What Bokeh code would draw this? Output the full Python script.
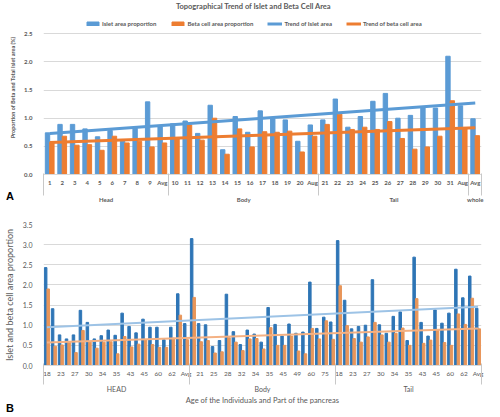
import numpy as np
from bokeh.plotting import figure
from bokeh.models import (ColumnDataSource, FixedTicker, LinearAxis, Range1d,
                          Legend, LegendItem, Label, NumeralTickFormatter, Div)
from bokeh.layouts import column
from bokeh.embed import file_html
from bokeh.resources import INLINE

# ---------------- Panel A data ----------------
a_groups = ["Head", "Body", "Tail", "whole"]
a_group_sizes = [10, 12, 12, 1]
a_labels = ["1", "2", "3", "4", "5", "6", "7", "8", "9", "Avg",
            "10", "11", "12", "13", "14", "15", "16", "17", "18", "19", "20", "Aug",
            "21", "22", "23", "24", "25", "26", "27", "28", "29", "30", "31", "Aug",
            "Avg"]
a_islet = [0.74, 0.89, 0.89, 0.81, 0.67, 0.78, 0.59, 0.82, 1.29, 0.85,
           0.90, 0.95, 0.73, 1.23, 0.44, 1.03, 0.75, 1.13, 0.99, 0.97, 0.59, 0.88,
           0.97, 1.34, 0.84, 1.03, 1.30, 1.44, 1.00, 1.05, 1.18, 1.18, 2.10, 1.22,
           0.99]
a_beta = [0.57, 0.68, 0.52, 0.53, 0.43, 0.68, 0.56, 0.59, 0.49, 0.56,
          0.63, 0.88, 0.61, 1.00, 0.36, 0.81, 0.49, 0.76, 0.75, 0.77, 0.40, 0.68,
          0.89, 1.07, 0.80, 0.84, 0.80, 0.94, 0.64, 0.45, 0.49, 0.68, 1.31, 0.81,
          0.69]
a_trend_islet = [0.73, 1.27]
a_trend_beta = [0.57, 0.83]
a_yticks = [0.0, 0.5, 1.0, 1.5, 2.0, 2.5]

# ---------------- Panel B data ----------------
b_groups = ["HEAD", "Body", "Tail"]
b_group_sizes = [21, 21, 21]
b_labels = ["18", "", "23", "", "27", "", "30", "", "34", "", "35", "", "43", "", "45", "", "60", "", "62", "", "Avg",
            "", "21", "", "25", "", "28", "", "32", "", "34", "", "35", "", "45", "", "49", "", "60", "", "75", "",
            "18", "", "23", "", "27", "", "30", "", "34", "", "35", "", "43", "", "45", "", "60", "", "62", "", "Avg"]
b_islet = [2.43, 1.41, 0.76, 0.66, 0.76, 1.37, 1.07, 0.66, 0.74, 0.88, 0.75,
           1.30, 0.97, 0.81, 1.15, 0.95, 0.95, 0.64, 0.95, 1.78, 1.04,
           3.15, 1.04, 1.01, 0.47, 0.62, 1.77, 0.84, 0.52, 0.88, 0.78, 0.58,
           1.44, 1.02, 0.73, 1.03, 0.80, 0.83, 2.07, 0.92, 1.20, 1.08,
           3.10, 1.62, 0.91, 0.97, 1.00, 2.13, 1.01, 0.80, 1.22, 1.33, 0.62,
           2.69, 1.07, 0.73, 1.38, 1.05, 1.30, 2.39, 1.68, 2.22, 1.42]
b_beta = [1.90, 0.48, 0.51, 0.58, 0.32, 0.87, 0.58, 0.43, 0.58, 0.59, 0.29,
          0.72, 0.46, 0.53, 0.63, 0.52, 0.45, 0.45, 0.68, 1.25, 0.64,
          1.69, 0.59, 0.62, 0.31, 0.34, 0.69, 0.58, 0.37, 0.66, 0.67, 0.41,
          0.94, 0.50, 0.50, 0.73, 0.36, 0.29, 0.92, 0.66, 1.11, 0.65,
          1.98, 0.99, 0.67, 0.58, 0.71, 1.07, 0.76, 0.58, 0.80, 0.93, 0.50,
          1.66, 0.55, 0.63, 0.88, 0.57, 0.50, 1.28, 1.02, 1.67, 0.91]
b_trend_islet = [0.95, 1.46]
b_trend_beta = [0.57, 0.92]
b_yticks = [0.0, 0.5, 1.0, 1.5, 2.0, 2.5, 3.0, 3.5]

FONT = "Lato"
GRID = "#D9D9D9"
SEP = "#C8C8C8"
TXT = "#595959"


def group_geometry(sizes):
    bounds = [-0.5]
    centers = []
    for s in sizes:
        centers.append(bounds[-1] + s / 2.0)
        bounds.append(bounds[-1] + s)
    return bounds, centers


def style_common(p, yticks):
    p.xgrid.grid_line_color = None
    p.ygrid.grid_line_color = GRID
    p.ygrid.ticker = FixedTicker(ticks=yticks)
    p.outline_line_color = None
    p.background_fill_color = "white"
    p.border_fill_color = "white"


def add_cat_axes(p, labels, groups, sizes, lab_size, grp_size, bold, std1,
                 sep_in, sep_out, title=None, title_size="7.5px"):
    n = len(labels)
    bounds, centers = group_geometry(sizes)
    ticks = [i for i in range(n) if labels[i] != ""]
    style = "bold" if bold else "normal"
    # level 1: category labels
    ax1 = p.xaxis[0]
    ax1.ticker = FixedTicker(ticks=ticks, minor_ticks=[])
    ax1.major_label_overrides = {i: labels[i] for i in ticks}
    ax1.major_tick_line_color = None
    ax1.major_tick_out = 0
    ax1.major_tick_in = 0
    ax1.minor_tick_line_color = None
    ax1.minor_tick_out = 0
    ax1.axis_line_color = GRID
    ax1.major_label_standoff = std1
    ax1.major_label_text_font = FONT
    ax1.major_label_text_font_size = lab_size
    ax1.major_label_text_font_style = style
    ax1.major_label_text_color = TXT
    # level 2: group labels; its minor ticks are the group separators
    ax2 = LinearAxis(ticker=FixedTicker(ticks=centers, minor_ticks=bounds))
    ax2.major_label_overrides = {c: g for c, g in zip(centers, groups)}
    ax2.major_tick_line_color = None
    ax2.major_tick_out = 0
    ax2.minor_tick_line_color = SEP
    ax2.minor_tick_in = sep_in
    ax2.minor_tick_out = sep_out
    ax2.axis_line_color = None
    ax2.major_label_standoff = 0
    ax2.major_label_text_font = FONT
    ax2.major_label_text_font_size = grp_size
    ax2.major_label_text_font_style = style
    ax2.major_label_text_color = TXT
    if title:
        ax2.axis_label = title
        ax2.axis_label_standoff = 0
        ax2.axis_label_text_font = FONT
        ax2.axis_label_text_font_size = title_size
        ax2.axis_label_text_font_style = "normal"
        ax2.axis_label_text_color = TXT
    p.add_layout(ax2, "below")


def style_yaxis(p, yticks, size, bold, label, label_size):
    ay = p.yaxis[0]
    ay.ticker = FixedTicker(ticks=yticks)
    ay.formatter = NumeralTickFormatter(format="0.0")
    ay.axis_line_color = None
    ay.major_tick_line_color = None
    ay.minor_tick_line_color = None
    ay.major_label_standoff = 5
    ay.major_label_text_font = FONT
    ay.major_label_text_font_size = size
    ay.major_label_text_font_style = "bold" if bold else "normal"
    ay.major_label_text_color = TXT
    ay.axis_label = label
    ay.axis_label_standoff = 5
    ay.axis_label_text_font = FONT
    ay.axis_label_text_font_size = label_size
    ay.axis_label_text_font_style = "bold" if bold else "normal"
    ay.axis_label_text_color = TXT


def panel_letter(letter, shift_up):
    # zero-height block under a panel; the letter is nudged up into the panel corner
    return Div(text=letter, width=20, height=0,
               styles={"position": "relative", "top": f"-{shift_up}px", "left": "1px",
                       "font-family": "Liberation Sans", "font-weight": "bold",
                       "font-size": "11px", "line-height": "11px", "color": "black",
                       "overflow": "visible", "z-index": "5"})


# ================= Panel A =================
na = len(a_labels)
xa = np.arange(na)
HA, LA, BA = 207, 31, 33
FHA = HA - BA  # frame height (top border 0)
pA = figure(width=484, height=HA, output_backend="svg", toolbar_location=None,
            x_range=Range1d(-0.5, na - 0.5), y_range=Range1d(0, 3.09),
            min_border_left=LA, min_border_right=3, min_border_top=0, min_border_bottom=BA)
style_common(pA, a_yticks)

srcA = ColumnDataSource(dict(x1=xa - 0.18, x2=xa + 0.17, islet=a_islet, beta=a_beta))
rA1 = pA.vbar(x="x1", top="islet", width=0.35, source=srcA, color="#5B9BD5")
rA2 = pA.vbar(x="x2", top="beta", width=0.35, source=srcA, color="#ED7D31")
rA3 = pA.line([0, na - 1], a_trend_islet, line_color="#5B9BD5", line_width=3)
rA4 = pA.line([0, na - 1], a_trend_beta, line_color="#ED7D31", line_width=3)

legA = Legend(items=[LegendItem(label="Islet area proportion", renderers=[rA1]),
                     LegendItem(label="Beta cell area proportion", renderers=[rA2]),
                     LegendItem(label="Trend of Islet area", renderers=[rA3]),
                     LegendItem(label="Trend of beta cell area", renderers=[rA4])],
              orientation="horizontal", location=(42, FHA - 27),
              glyph_width=15, glyph_height=5, label_standoff=2, spacing=14,
              padding=2, margin=0, border_line_color=None, background_fill_alpha=0,
              label_text_font=FONT, label_text_font_size="6px",
              label_text_font_style="bold", label_text_color=TXT,
              label_height=6)
pA.add_layout(legA, "center")

pA.add_layout(Label(x=211, y=FHA - 6, x_units="screen", y_units="screen",
                    text="Topographical  Trend of Islet and Beta Cell Area",
                    text_font=FONT, text_font_size="7.5px", text_font_style="bold",
                    text_color=TXT, text_align="center", text_baseline="middle"))

style_yaxis(pA, a_yticks, "6px", True, "Proportion of Beta and Total Islet area (%)", "5.5px")
add_cat_axes(pA, a_labels, a_groups, a_group_sizes, "6px", "6px", True, 4, 15, 7)

# ================= Panel B =================
nb = len(b_labels)
xb = np.arange(nb)
HB, LB, BB, TB = 194, 33, 46, 7
pB = figure(width=484, height=HB, output_backend="svg", toolbar_location=None,
            x_range=Range1d(-0.5, nb - 0.5), y_range=Range1d(0, 3.5),
            min_border_left=LB, min_border_right=3, min_border_top=TB, min_border_bottom=BB)
style_common(pB, b_yticks)
srcB = ColumnDataSource(dict(x1=xb - 0.19, x2=xb + 0.18, islet=b_islet, beta=b_beta))
pB.vbar(x="x1", top="islet", width=0.36, source=srcB, color="#2E75B6")
pB.vbar(x="x2", top="beta", width=0.36, source=srcB, color="#E8965A")
pB.line([0, nb - 1], b_trend_islet, line_color="#9DC3E6", line_width=2)
pB.line([0, nb - 1], b_trend_beta, line_color="#F4B183", line_width=2)
style_yaxis(pB, b_yticks, "7px", False, "Islet and beta cell area proportion", "9px")
add_cat_axes(pB, b_labels, b_groups, b_group_sizes, "6.5px", "7px", False, 4, 16, 5,
             title="Age of the Individuals and Part of the pancreas")

layout = column(pA, panel_letter("A", 21), pB, panel_letter("B", 13), spacing=0)
open("out.html", "w").write(file_html(layout, INLINE))
